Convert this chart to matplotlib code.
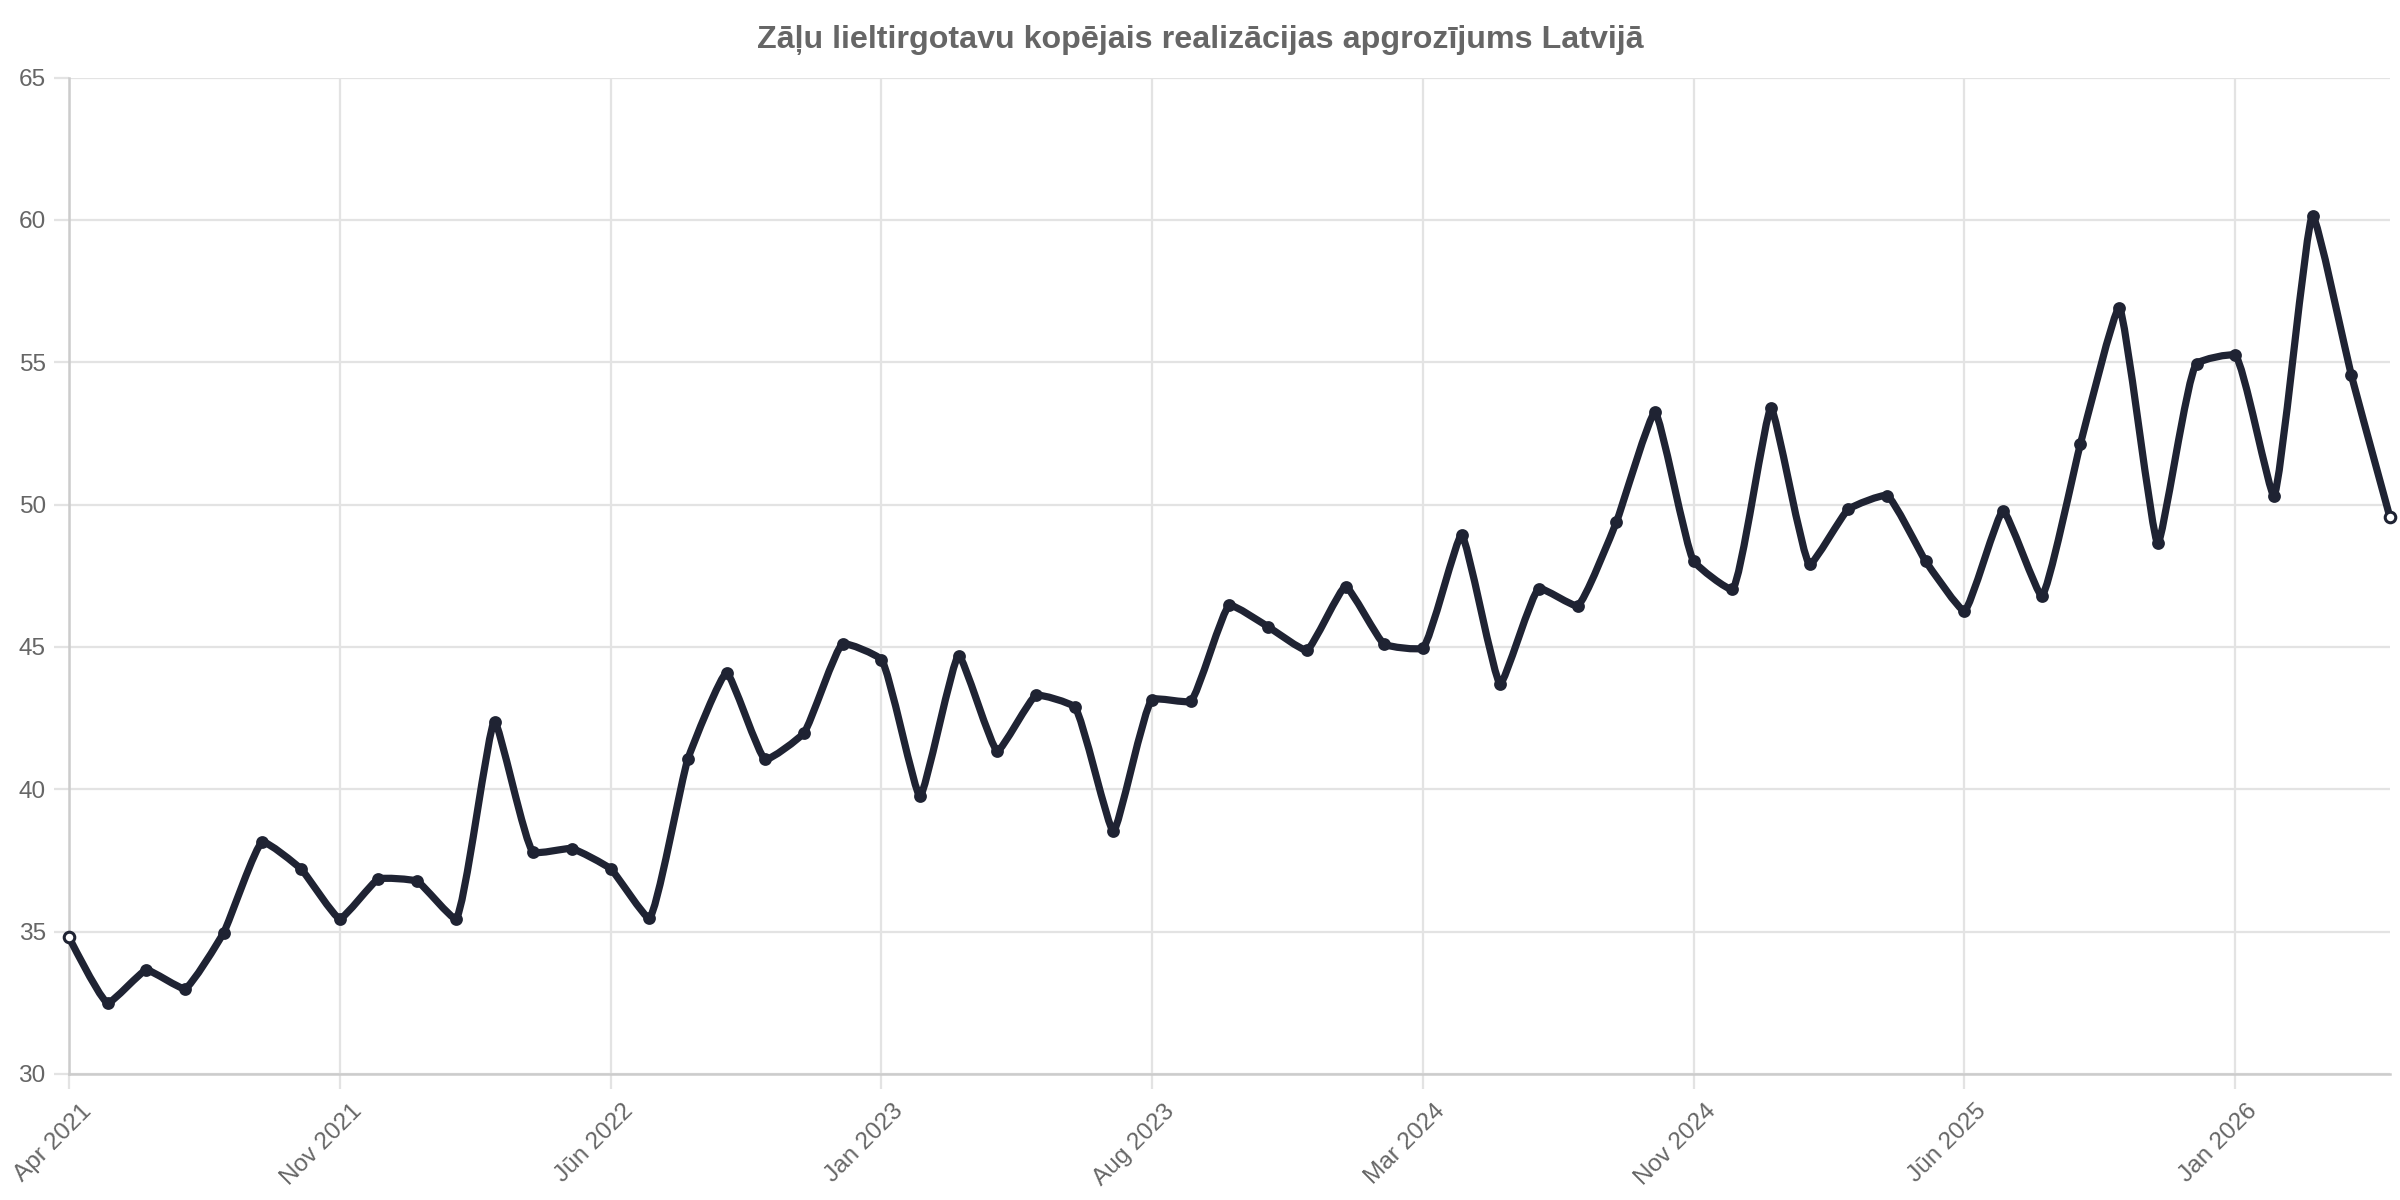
import numpy as np
import matplotlib
matplotlib.use("Agg")
import matplotlib.pyplot as plt
from matplotlib.path import Path
from matplotlib.patches import PathPatch
from matplotlib.transforms import ScaledTranslation

title = "Zāļu lieltirgotavu kopējais realizācijas apgrozījums Latvijā"

values = [34.8, 32.5, 33.65, 33.0, 34.97, 38.15, 37.2, 35.46, 36.85, 36.77,
          35.46, 42.38, 37.8, 37.92, 37.21, 35.48, 41.07, 44.09, 41.05, 41.98,
          45.11, 44.56, 39.76, 44.70, 41.35, 43.30, 42.89, 38.53, 43.15, 43.10,
          46.46, 45.71, 44.89, 47.12, 45.10, 44.97, 48.93, 43.71, 47.05, 46.45,
          49.38, 53.24, 48.02, 47.03, 53.38, 47.91, 49.84, 50.32, 48.01, 46.27,
          49.78, 46.80, 52.14, 56.92, 48.64, 54.95, 55.24, 50.32, 60.15, 54.56,
          49.56]

tick_index = [0, 7, 14, 21, 28, 35, 42, 49, 56]
tick_labels = ["Apr 2021", "Nov 2021", "Jūn 2022", "Jan 2023", "Aug 2023",
               "Mar 2024", "Nov 2024", "Jūn 2025", "Jan 2026"]
y_ticks = [30, 35, 40, 45, 50, 55, 60, 65]

plt.rcParams['font.family'] = ['Liberation Sans', 'DejaVu Sans']

LINE = "#1f2333"
GRID = "#e3e3e3"
TXT = "#666666"

fig = plt.figure(figsize=(12, 6), dpi=200)
ax = fig.add_axes([0.02875, 0.105, 0.96705, 0.8303])
x = np.arange(len(values))
ax.set_xlim(0, len(values) - 1)
ax.set_ylim(30, 65)

# mildly smoothed spline computed in pixel space
pts = ax.transData.transform(np.column_stack([x, values]))
def tangent(p0, p1, p2, s=0.4):
    d1 = p0 - p1
    d2 = p2 - p1
    d1a = np.hypot(*d1) ** 0.5
    d2a = np.hypot(*d2) ** 0.5
    num = (d2a * d2a * d1 - d1a * d1a * d2) * s
    den1 = 3 * d2a * (d1a + d2a)
    den2 = 3 * d1a * (d1a + d2a)
    return p1 + num / den1, p1 - num / den2

tans = [tangent(pts[i - 1], pts[i], pts[i + 1]) for i in range(1, len(pts) - 1)]
verts = [pts[0], tans[0][0], pts[1]]
codes = [Path.MOVETO, Path.CURVE3, Path.CURVE3]
for i in range(2, len(pts) - 1):
    verts += [tans[i - 2][1], tans[i - 1][0], pts[i]]
    codes += [Path.CURVE4] * 3
verts += [tans[-1][1], pts[-1]]
codes += [Path.CURVE3, Path.CURVE3]
verts_data = ax.transData.inverted().transform(np.array(verts))
patch = PathPatch(Path(verts_data, codes), fill=False, edgecolor=LINE,
                  linewidth=2.6, capstyle='round', joinstyle='round',
                  zorder=3, clip_on=False)
ax.add_patch(patch)

ax.plot(x[1:-1], values[1:-1], linestyle='none', marker='o', markersize=3.6,
        color=LINE, zorder=4, clip_on=False)
ax.plot([x[0], x[-1]], [values[0], values[-1]], linestyle='none', marker='o',
        markersize=3.8, markerfacecolor='white', markeredgecolor=LINE,
        markeredgewidth=1.1, zorder=5, clip_on=False)

ax.set_yticks(y_ticks)
ax.set_xticks(tick_index)
ax.set_xticklabels(tick_labels, rotation=45, ha='right', va='top',
                   rotation_mode='anchor')
ax.tick_params(axis='both', colors=GRID, labelcolor=TXT, labelsize=8.8,
               length=5.4, width=0.8)
ax.tick_params(axis='y', pad=3)
ax.tick_params(axis='x', pad=4)
offset = ScaledTranslation(4 / 72, 0, fig.dpi_scale_trans)
for lbl in ax.get_xticklabels():
    lbl.set_transform(lbl.get_transform() + offset)
ax.grid(True, color=GRID, linewidth=0.8)
ax.set_axisbelow(True)
for s in ['top', 'right']:
    ax.spines[s].set_visible(False)
for s in ['left', 'bottom']:
    ax.spines[s].set_color("#cccccc")
    ax.spines[s].set_linewidth(0.9)

fig.text(0.5, 1 - 40 / 1200, title, ha='center', va='center',
         fontsize=11.6, fontweight='bold', color=TXT)

fig.savefig("out.png", dpi=200, facecolor='white')
